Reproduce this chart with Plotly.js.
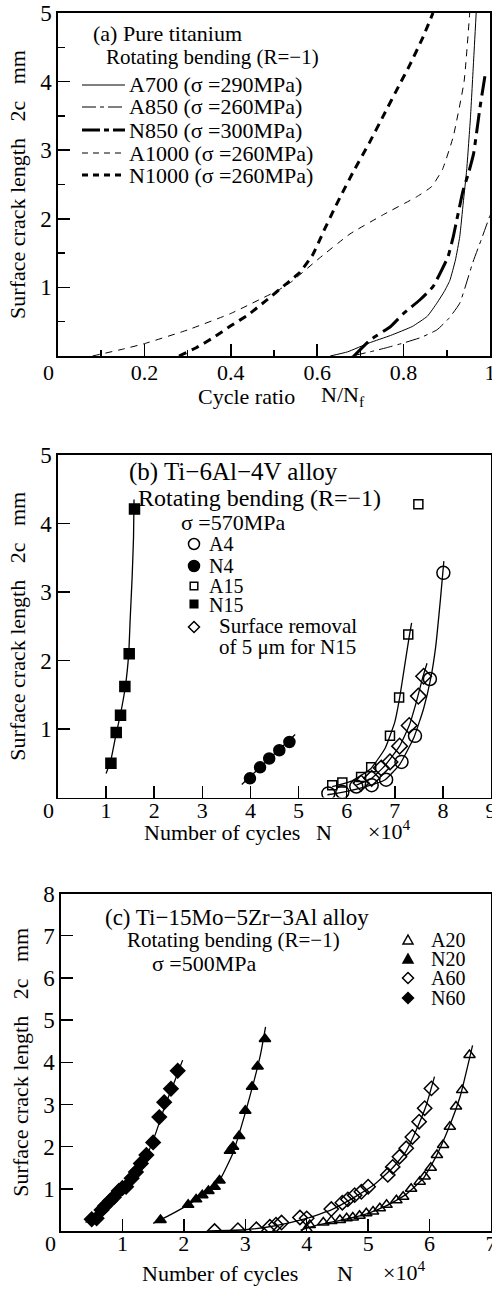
<!DOCTYPE html>
<html><head><meta charset="utf-8">
<script src="https://cdn.plot.ly/plotly-3.0.1.min.js"></script>
<style>html,body{margin:0;padding:0;background:#fff}#chart{width:492px;height:1289px}</style>
</head><body><div id="chart"></div>
<script>
// ---------- Panel (a): Pure titanium, crack length vs cycle ratio ----------
const a700_x  = [0.63,0.67,0.72,0.77,0.82,0.855,0.877,0.895,0.907,0.92,0.93,0.938,0.946,0.955,0.962,0.968];
const a700_y  = [0,0.06,0.19,0.30,0.43,0.58,0.77,0.95,1.10,1.40,1.74,2.23,2.71,3.50,4.30,5.00];
const a850_x  = [0.68,0.722,0.76,0.80,0.84,0.877,0.905,0.93,0.96,0.98,1.00];
const a850_y  = [0,0.06,0.12,0.19,0.27,0.38,0.55,0.77,1.36,1.70,2.05];
const n850_x  = [0.685,0.722,0.77,0.80,0.838,0.868,0.888,0.903,0.915,0.923,0.938,0.95,0.962,0.977,0.99];
const n850_y  = [0,0.23,0.43,0.62,0.82,1.01,1.25,1.45,1.74,1.98,2.42,2.66,2.95,3.63,4.15];
const a1000_x = [0.08,0.15,0.20,0.30,0.40,0.51,0.54,0.60,0.676,0.753,0.83,0.865,0.89,0.915,0.94,0.953];
const a1000_y = [0,0.10,0.18,0.38,0.62,0.96,1.08,1.40,1.78,2.06,2.32,2.47,2.72,3.20,4.00,5.00];
const n1000_x = [0.28,0.32,0.36,0.40,0.44,0.48,0.53,0.56,0.59,0.615,0.64,0.66,0.683,0.72,0.753,0.79,0.815,0.845,0.868];
const n1000_y = [0,0.12,0.27,0.44,0.60,0.80,1.06,1.22,1.48,1.82,2.15,2.40,2.68,3.10,3.50,3.95,4.25,4.65,5.00];

// ---------- Panel (b): Ti-6Al-4V, crack length vs N (x10^4) ----------
const bA4_x  = [5.62,5.91,6.20,6.52,6.82,7.14,7.42,7.73,8.01];
const bA4_y  = [0.06,0.08,0.16,0.18,0.26,0.52,0.90,1.73,3.28];
const bN4_x  = [3.99,4.20,4.39,4.60,4.81];
const bN4_y  = [0.28,0.44,0.57,0.69,0.81];
const bA15_x = [5.70,5.91,6.30,6.51,6.90,7.09,7.28,7.49];
const bA15_y = [0.18,0.22,0.30,0.44,0.90,1.46,2.38,4.28];
const bN15_x = [1.10,1.21,1.30,1.39,1.48,1.59];
const bN15_y = [0.50,0.95,1.20,1.62,2.10,4.21];
const bSR_x  = [6.30,6.52,6.72,6.90,7.10,7.30,7.49,7.60];
const bSR_y  = [0.21,0.28,0.43,0.52,0.75,1.05,1.48,1.77];
// fitted curves (b)
const cA4_x  = [5.60,6.00,6.40,6.80,7.10,7.40,7.60,7.75,7.85,7.95,8.02];
const cA4_y  = [0.04,0.09,0.16,0.26,0.48,0.88,1.30,1.75,2.20,2.90,3.45];
const cN4_x  = [3.82,4.93];
const cN4_y  = [0.19,0.92];
const cA15_x = [5.70,6.10,6.50,6.80,7.00,7.10,7.20,7.30,7.35];
const cA15_y = [0.16,0.24,0.42,0.72,1.10,1.45,1.90,2.35,2.55];
const cN15_x = [1.00,1.10,1.20,1.30,1.40,1.47,1.50,1.54,1.57,1.58];
const cN15_y = [0.35,0.55,0.90,1.22,1.62,2.10,2.60,3.20,3.80,4.35];
const cSR_x  = [6.20,6.50,6.80,7.10,7.30,7.45,7.58,7.67];
const cSR_y  = [0.18,0.27,0.47,0.75,1.05,1.40,1.75,1.96];

// ---------- Panel (c): Ti-15Mo-5Zr-3Al ----------
const cA20_px = [4.00,4.05,4.27,4.40,4.54,4.65,4.75,4.86,4.97,5.08,5.19,5.30,5.46,5.57,5.70,5.84,5.92,6.02,6.12,6.22,6.33,6.43,6.53,6.65];
const cA20_py = [0.04,0.14,0.20,0.24,0.26,0.30,0.32,0.36,0.42,0.46,0.54,0.62,0.73,0.81,1.00,1.17,1.29,1.50,1.80,2.04,2.47,2.95,3.34,4.17];
const cN20_px = [1.62,2.07,2.20,2.30,2.40,2.50,2.58,2.75,2.80,2.90,3.00,3.11,3.20,3.32];
const cN20_py = [0.26,0.62,0.75,0.85,0.95,1.05,1.20,1.90,2.00,2.25,2.85,3.42,3.90,4.55];
const cA60_px = [2.50,2.88,3.18,3.40,3.50,3.59,3.89,4.00,4.40,4.58,4.67,4.78,4.89,5.00,5.32,5.40,5.51,5.62,5.72,5.83,5.92,6.03];
const cA60_py = [0,0.02,0.04,0.10,0.15,0.20,0.32,0.30,0.52,0.67,0.75,0.85,0.93,1.05,1.33,1.52,1.76,1.96,2.23,2.59,2.91,3.38];
const cN60_px = [0.50,0.58,0.66,0.72,0.80,0.86,0.94,1.00,1.06,1.15,1.22,1.30,1.39,1.50,1.60,1.68,1.79,1.90];
const cN60_py = [0.28,0.30,0.50,0.60,0.72,0.80,0.95,1.02,1.05,1.25,1.40,1.60,1.80,2.10,2.70,3.05,3.37,3.80];
// fitted curves (c)
const fA20_x = [3.90,4.20,4.60,5.00,5.30,5.60,5.90,6.10,6.30,6.50,6.70];
const fA20_y = [0.02,0.15,0.27,0.42,0.60,0.85,1.25,1.75,2.40,3.20,4.40];
const fN20_x = [1.50,1.80,2.10,2.40,2.60,2.80,3.00,3.15,3.25,3.33];
const fN20_y = [0.18,0.40,0.65,0.95,1.25,1.85,2.80,3.60,4.20,4.84];
const fA60_x = [2.40,3.00,3.50,4.00,4.40,4.80,5.10,5.40,5.60,5.80,5.95,6.08];
const fA60_y = [0,0.03,0.13,0.30,0.50,0.82,1.10,1.50,1.85,2.45,3.00,3.66];
const fN60_x = [0.40,0.60,0.80,1.00,1.20,1.40,1.55,1.70,1.85,1.98];
const fN60_y = [0.20,0.45,0.72,1.00,1.35,1.80,2.35,3.00,3.55,4.05];

// ---------- drawing ----------
const W = 492, H = 1289;
const FONT = "Liberation Serif, Times New Roman, serif";
const px = x => x / W, py = y => 1 - y / H;

function line(x, y, xa, ya, w, dash, name) {
  return {x, y, xaxis: xa, yaxis: ya, mode: 'lines', name, showlegend: false,
    line: {color: '#000', width: w, dash: dash, shape: 'spline', smoothing: 0.4}, hoverinfo: 'skip'};
}
function pts(x, y, xa, ya, sym, size, name) {
  return {x, y, xaxis: xa, yaxis: ya, mode: 'markers', name, showlegend: false,
    marker: {symbol: sym, size: size, color: '#000', line: {color: '#000', width: 1.5}}};
}

const traces = [
  line(a700_x, a700_y, 'x', 'y', 1, 'solid', 'A700'),
  line(a850_x, a850_y, 'x', 'y', 1, '14px,5px,4px,5px', 'A850'),
  line(n850_x, n850_y, 'x', 'y', 3, '20px,6px,6px,6px', 'N850'),
  line(a1000_x, a1000_y, 'x', 'y', 1, '7px,6px', 'A1000'),
  line(n1000_x, n1000_y, 'x', 'y', 3, '8px,6px', 'N1000'),

  line(cN15_x, cN15_y, 'x2', 'y2', 1.3, 'solid', 'N15 fit'),
  line(cN4_x, cN4_y, 'x2', 'y2', 1.3, 'solid', 'N4 fit'),
  line(cA4_x, cA4_y, 'x2', 'y2', 1.3, 'solid', 'A4 fit'),
  line(cA15_x, cA15_y, 'x2', 'y2', 1.3, 'solid', 'A15 fit'),
  line(cSR_x, cSR_y, 'x2', 'y2', 1.3, 'solid', 'SR fit'),
  pts(bN15_x, bN15_y, 'x2', 'y2', 'square', 10, 'N15'),
  pts(bN4_x, bN4_y, 'x2', 'y2', 'circle', 11, 'N4'),
  pts(bA15_x, bA15_y, 'x2', 'y2', 'square-open', 9, 'A15'),
  pts(bSR_x, bSR_y, 'x2', 'y2', 'diamond-open', 12, 'Surface removal'),
  pts(bA4_x, bA4_y, 'x2', 'y2', 'circle-open', 13, 'A4'),

  line(fN60_x, fN60_y, 'x3', 'y3', 1.3, 'solid', 'N60 fit'),
  line(fN20_x, fN20_y, 'x3', 'y3', 1.3, 'solid', 'N20 fit'),
  line(fA60_x, fA60_y, 'x3', 'y3', 1.3, 'solid', 'A60 fit'),
  line(fA20_x, fA20_y, 'x3', 'y3', 1.3, 'solid', 'A20 fit'),
  pts(cN60_px, cN60_py, 'x3', 'y3', 'diamond', 11, 'N60'),
  pts(cN20_px, cN20_py, 'x3', 'y3', 'triangle-up', 10, 'N20'),
  pts(cA60_px, cA60_py, 'x3', 'y3', 'diamond-open', 11, 'A60'),
  pts(cA20_px, cA20_py, 'x3', 'y3', 'triangle-up-open', 10, 'A20'),
];

function xax(domain, range, tickvals, ticktext, minor, anchor, standoff) {
  const o = {domain, range, tickvals, ticktext, anchor, showline: true, mirror: true,
    linecolor: '#000', linewidth: 1.6, ticks: 'inside', ticklen: 12, tickwidth: 1.5, tickcolor: '#000',
    showgrid: false, zeroline: false, ticklabeloverflow: 'allow', ticklabelstandoff: standoff,
    tickfont: {family: FONT, size: 22, color: '#000'}, automargin: false};
  if (minor) o.minor = minor;
  return o;
}
function yax(domain, range, tickvals, minor, anchor) {
  const o = {domain, range, tickvals, ticktext: tickvals.map(String), anchor, showline: true, mirror: true,
    linecolor: '#000', linewidth: 1.6, ticks: 'inside', ticklen: 12, tickwidth: 1.5, tickcolor: '#000',
    showgrid: false, zeroline: false, ticklabeloverflow: 'allow',
    tickfont: {family: FONT, size: 23, color: '#000'},
    title: {text: 'Surface crack length   2c   mm', font: {family: FONT, size: 22, color: '#000'}, standoff: 8},
    automargin: false};
  if (minor) o.minor = minor;
  return o;
}

const layout = {
  width: W, height: H, margin: {l: 0, r: 0, t: 0, b: 0}, showlegend: false,
  paper_bgcolor: '#fff', plot_bgcolor: '#fff', font: {family: FONT, color: '#000'},
  xaxis: xax([px(58), px(490)], [0, 1], [0.2, 0.4, 0.6, 0.8, 1], ['0.2', '0.4', '0.6', '0.8', '1'],
    {tickvals: [0.1, 0.3, 0.5, 0.7, 0.9], ticks: 'inside', ticklen: 6, tickwidth: 1.5, tickcolor: '#000'}, 'y', -4),
  yaxis: yax([py(356), py(13)], [0, 5], [1, 2, 3, 4, 5],
    {tickvals: [0.5, 1.5, 2.5, 3.5, 4.5], ticks: 'inside', ticklen: 7, tickwidth: 1.5, tickcolor: '#000'}, 'x'),
  xaxis2: xax([px(58), px(491)], [0, 9], [1, 2, 3, 4, 5, 6, 7, 8, 9], ['1', '2', '3', '4', '5', '6', '7', '8', '9'], null, 'y2', -8),
  yaxis2: yax([py(797.5), py(455)], [0, 5], [1, 2, 3, 4, 5], null, 'x2'),
  xaxis3: xax([px(61), px(491)], [0, 7], [1, 2, 3, 4, 5, 6, 7], ['1', '2', '3', '4', '5', '6', '7'], null, 'y3', -8),
  yaxis3: yax([py(1231), py(893.5)], [0, 8], [1, 2, 3, 4, 5, 6, 7, 8], null, 'x3'),
  annotations: [],
  shapes: []
};

function txt(text, x, y, size, anchor) {
  layout.annotations.push({text, x: px(x), y: py(y), xref: 'paper', yref: 'paper',
    xanchor: anchor || 'left', yanchor: 'middle', showarrow: false,
    font: {family: FONT, size: size || 21, color: '#000'}});
}
// zero labels at corners
txt('0', 48, 372, 22, 'center');
txt('0', 48, 810, 22, 'center');
txt('0', 50, 1243, 22, 'center');

// x-axis titles
txt('Cycle ratio', 196, 396, 22);
txt('N/N<sub>f</sub>', 319, 396, 22);
txt('Number of cycles', 142, 832, 22);
txt('N', 324, 832, 22, 'center');
txt('×10<sup>4</sup>', 366, 830, 22);
txt('Number of cycles', 140, 1273, 22);
txt('N', 345, 1273, 22, 'center');
txt('×10<sup>4</sup>', 381, 1271, 22);

// Panel (a) texts and legend
txt('(a) Pure titanium', 91, 33, 22);
txt('Rotating bending (R=−1)', 104, 57, 21);
const legA = [
  ['A700 (σ =290MPa)', 85, 1, 'solid'],
  ['A850 (σ =260MPa)', 107, 1, '14px,4px,4px,4px'],
  ['N850 (σ =300MPa)', 130, 3, '18px,4px,5px,4px'],
  ['A1000 (σ =260MPa)', 153, 1, '6px,5px'],
  ['N1000 (σ =260MPa)', 175, 3, '6px,5px'],
];
legA.forEach(([t, y, w, d]) => {
  layout.shapes.push({type: 'line', xref: 'paper', yref: 'paper', x0: px(82), x1: px(125), y0: py(y), y1: py(y),
    line: {color: '#000', width: w, dash: d}});
  txt(t, 127, y, 22);
});

// Panel (b) texts and legend
txt('(b) Ti−6Al−4V alloy', 127, 472, 25);
txt('Rotating bending (R=−1)', 136, 498, 24);
txt('σ =570MPa', 179, 522, 22);
function circ(cx, cy, r, fill) {
  layout.shapes.push({type: 'circle', xref: 'paper', yref: 'paper', x0: px(cx - r), x1: px(cx + r), y0: py(cy + r), y1: py(cy - r),
    line: {color: '#000', width: 1.5}, fillcolor: fill ? '#000' : 'rgba(0,0,0,0)'});
}
function rect(cx, cy, r, fill) {
  layout.shapes.push({type: 'rect', xref: 'paper', yref: 'paper', x0: px(cx - r), x1: px(cx + r), y0: py(cy + r), y1: py(cy - r),
    line: {color: '#000', width: 1.5}, fillcolor: fill ? '#000' : 'rgba(0,0,0,0)'});
}
function poly(ptsArr, fill) {
  const p = ptsArr.map((q, i) => (i ? 'L' : 'M') + px(q[0]).toFixed(5) + ',' + py(q[1]).toFixed(5)).join(' ') + ' Z';
  layout.shapes.push({type: 'path', xref: 'paper', yref: 'paper', path: p,
    line: {color: '#000', width: 1.5}, fillcolor: fill ? '#000' : 'rgba(0,0,0,0)'});
}
const diamond = (cx, cy, r, f) => poly([[cx, cy - r], [cx + r, cy], [cx, cy + r], [cx - r, cy]], f);
const tri = (cx, cy, r, f) => poly([[cx, cy - r], [cx + r, cy + r * 0.8], [cx - r, cy + r * 0.8]], f);

circ(194, 544, 5.5, false); txt('A4', 207, 544, 20);
circ(194, 566, 5.5, true);  txt('N4', 207, 566, 20);
rect(194, 586, 3.8, false); txt('A15', 207, 586, 20);
rect(194, 604, 3.8, true);  txt('N15', 207, 605, 20);
diamond(194, 627, 5.5, false); txt('Surface removal', 217, 626, 21);
txt('of 5 μm for N15', 217, 647, 21);

// Panel (c) texts and legend
txt('(c) Ti−15Mo−5Zr−3Al alloy', 103, 917, 23);
txt('Rotating bending (R=−1)', 125, 940, 21);
txt('σ =500MPa', 150, 963, 22);
tri(408, 940, 5, false); txt('A20', 429, 940, 20);
tri(408, 959, 5, true);  txt('N20', 429, 959, 20);
diamond(408, 978, 5.5, false); txt('A60', 429, 978, 20);
diamond(408, 998, 5.5, true);  txt('N60', 429, 998, 20);

Plotly.newPlot('chart', traces, layout, {staticPlot: true});
</script>
</body></html>
